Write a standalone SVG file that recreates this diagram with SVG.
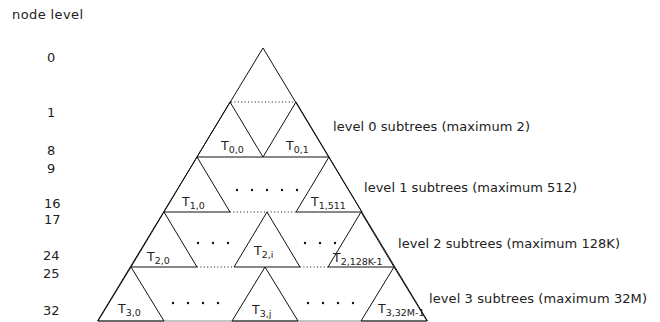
<svg xmlns="http://www.w3.org/2000/svg" width="660" height="322" viewBox="0 0 660 322">
<style>
text{font-family:"DejaVu Sans","Liberation Sans",sans-serif;fill:#222}
.lbl{font-size:13px}
.num{font-size:13px}
.t{font-size:12.5px}
.sub{font-size:9.5px}
.tri{fill:none;stroke:#111;stroke-width:1}
.dot{stroke:#111;stroke-width:1;stroke-dasharray:1 2.4;fill:none}
.pt{fill:#111}
</style>
<rect width="660" height="322" fill="#fff"/>
<text class="lbl" x="12" y="19" textLength="71">node level</text>
<g id="levels" class="num">
<text x="47" y="62">0</text>
<text x="47" y="117">1</text>
<text x="47" y="155">8</text>
<text x="47" y="173">9</text>
<text x="44" y="208">16</text>
<text x="44" y="224">17</text>
<text x="43" y="260">24</text>
<text x="43" y="278">25</text>
<text x="43" y="315">32</text>
</g>
<g id="tree">
<polyline class="tri" points="97.5,321 263,48 427.5,321"/>
</g>
<g id="connectors">
<line class="dot" x1="231" y1="102" x2="296" y2="102"/>
<line class="dot" x1="230" y1="212" x2="296" y2="212"/>
<line class="dot" x1="197" y1="267" x2="234" y2="267"/>
<line class="dot" x1="300" y1="267" x2="328" y2="267"/>
<line x1="98" y1="321" x2="427" y2="321" stroke="#888" stroke-width="1"/>
</g>
<g id="T00"><polygon class="tri" points="230,102 197,157 263,157"/><text class="t" x="221" y="150">T<tspan class="sub" dy="3">0,0</tspan></text></g>
<g id="T01"><polygon class="tri" points="296,102 263,157 329,157"/><text class="t" x="286" y="150">T<tspan class="sub" dy="3">0,1</tspan></text></g>
<g id="T10"><polygon class="tri" points="197,157 164,212 230,212"/><text class="t" x="182" y="206">T<tspan class="sub" dy="3">1,0</tspan></text></g>
<g id="T1511"><polygon class="tri" points="329,157 296,212 362,212"/><text class="t" x="311" y="206">T<tspan class="sub" dy="3">1,511</tspan></text></g>
<g id="T20"><polygon class="tri" points="164,212 131,267 197,267"/><text class="t" x="147" y="261">T<tspan class="sub" dy="3">2,0</tspan></text></g>
<g id="T2i"><polygon class="tri" points="267,212 234,267 300,267"/><text class="t" x="254" y="255">T<tspan class="sub" dy="3">2,i</tspan></text></g>
<g id="T2last"><polygon class="tri" points="361,212 328,267 394,267"/><text class="t" x="333" y="262">T<tspan class="sub" dy="3">2,128K-1</tspan></text></g>
<g id="T30"><polygon class="tri" points="131,267 98,321 164,321"/><text class="t" x="118" y="313">T<tspan class="sub" dy="3">3,0</tspan></text></g>
<g id="T3j"><polygon class="tri" points="265,267 232,321 298,321"/><text class="t" x="252" y="314">T<tspan class="sub" dy="3">3,j</tspan></text></g>
<g id="T3last"><polygon class="tri" points="394,267 361,321 427,321"/><text class="t" x="378" y="313">T<tspan class="sub" dy="3">3,32M-1</tspan></text></g>
<g id="ellipses" class="pt">
<circle cx="237" cy="190" r="1.2"/><circle cx="252" cy="190" r="1.2"/><circle cx="267" cy="190" r="1.2"/><circle cx="282" cy="190" r="1.2"/><circle cx="297" cy="190" r="1.2"/>
<circle cx="198" cy="243" r="1.2"/><circle cx="213" cy="243" r="1.2"/><circle cx="228" cy="243" r="1.2"/>
<circle cx="305" cy="243" r="1.2"/><circle cx="320" cy="243" r="1.2"/><circle cx="335" cy="243" r="1.2"/>
<circle cx="173" cy="303" r="1.2"/><circle cx="188" cy="303" r="1.2"/><circle cx="203" cy="303" r="1.2"/><circle cx="218" cy="303" r="1.2"/>
<circle cx="308" cy="303" r="1.2"/><circle cx="323" cy="303" r="1.2"/><circle cx="338" cy="303" r="1.2"/><circle cx="353" cy="303" r="1.2"/>
</g>
<g id="levelLabels" class="lbl">
<text x="333" y="131" textLength="197">level 0 subtrees (maximum 2)</text>
<text x="364" y="192" textLength="213">level 1 subtrees (maximum 512)</text>
<text x="398" y="248" textLength="222">level 2 subtrees (maximum 128K)</text>
<text x="429" y="303" textLength="218">level 3 subtrees (maximum 32M)</text>
</g>
</svg>
